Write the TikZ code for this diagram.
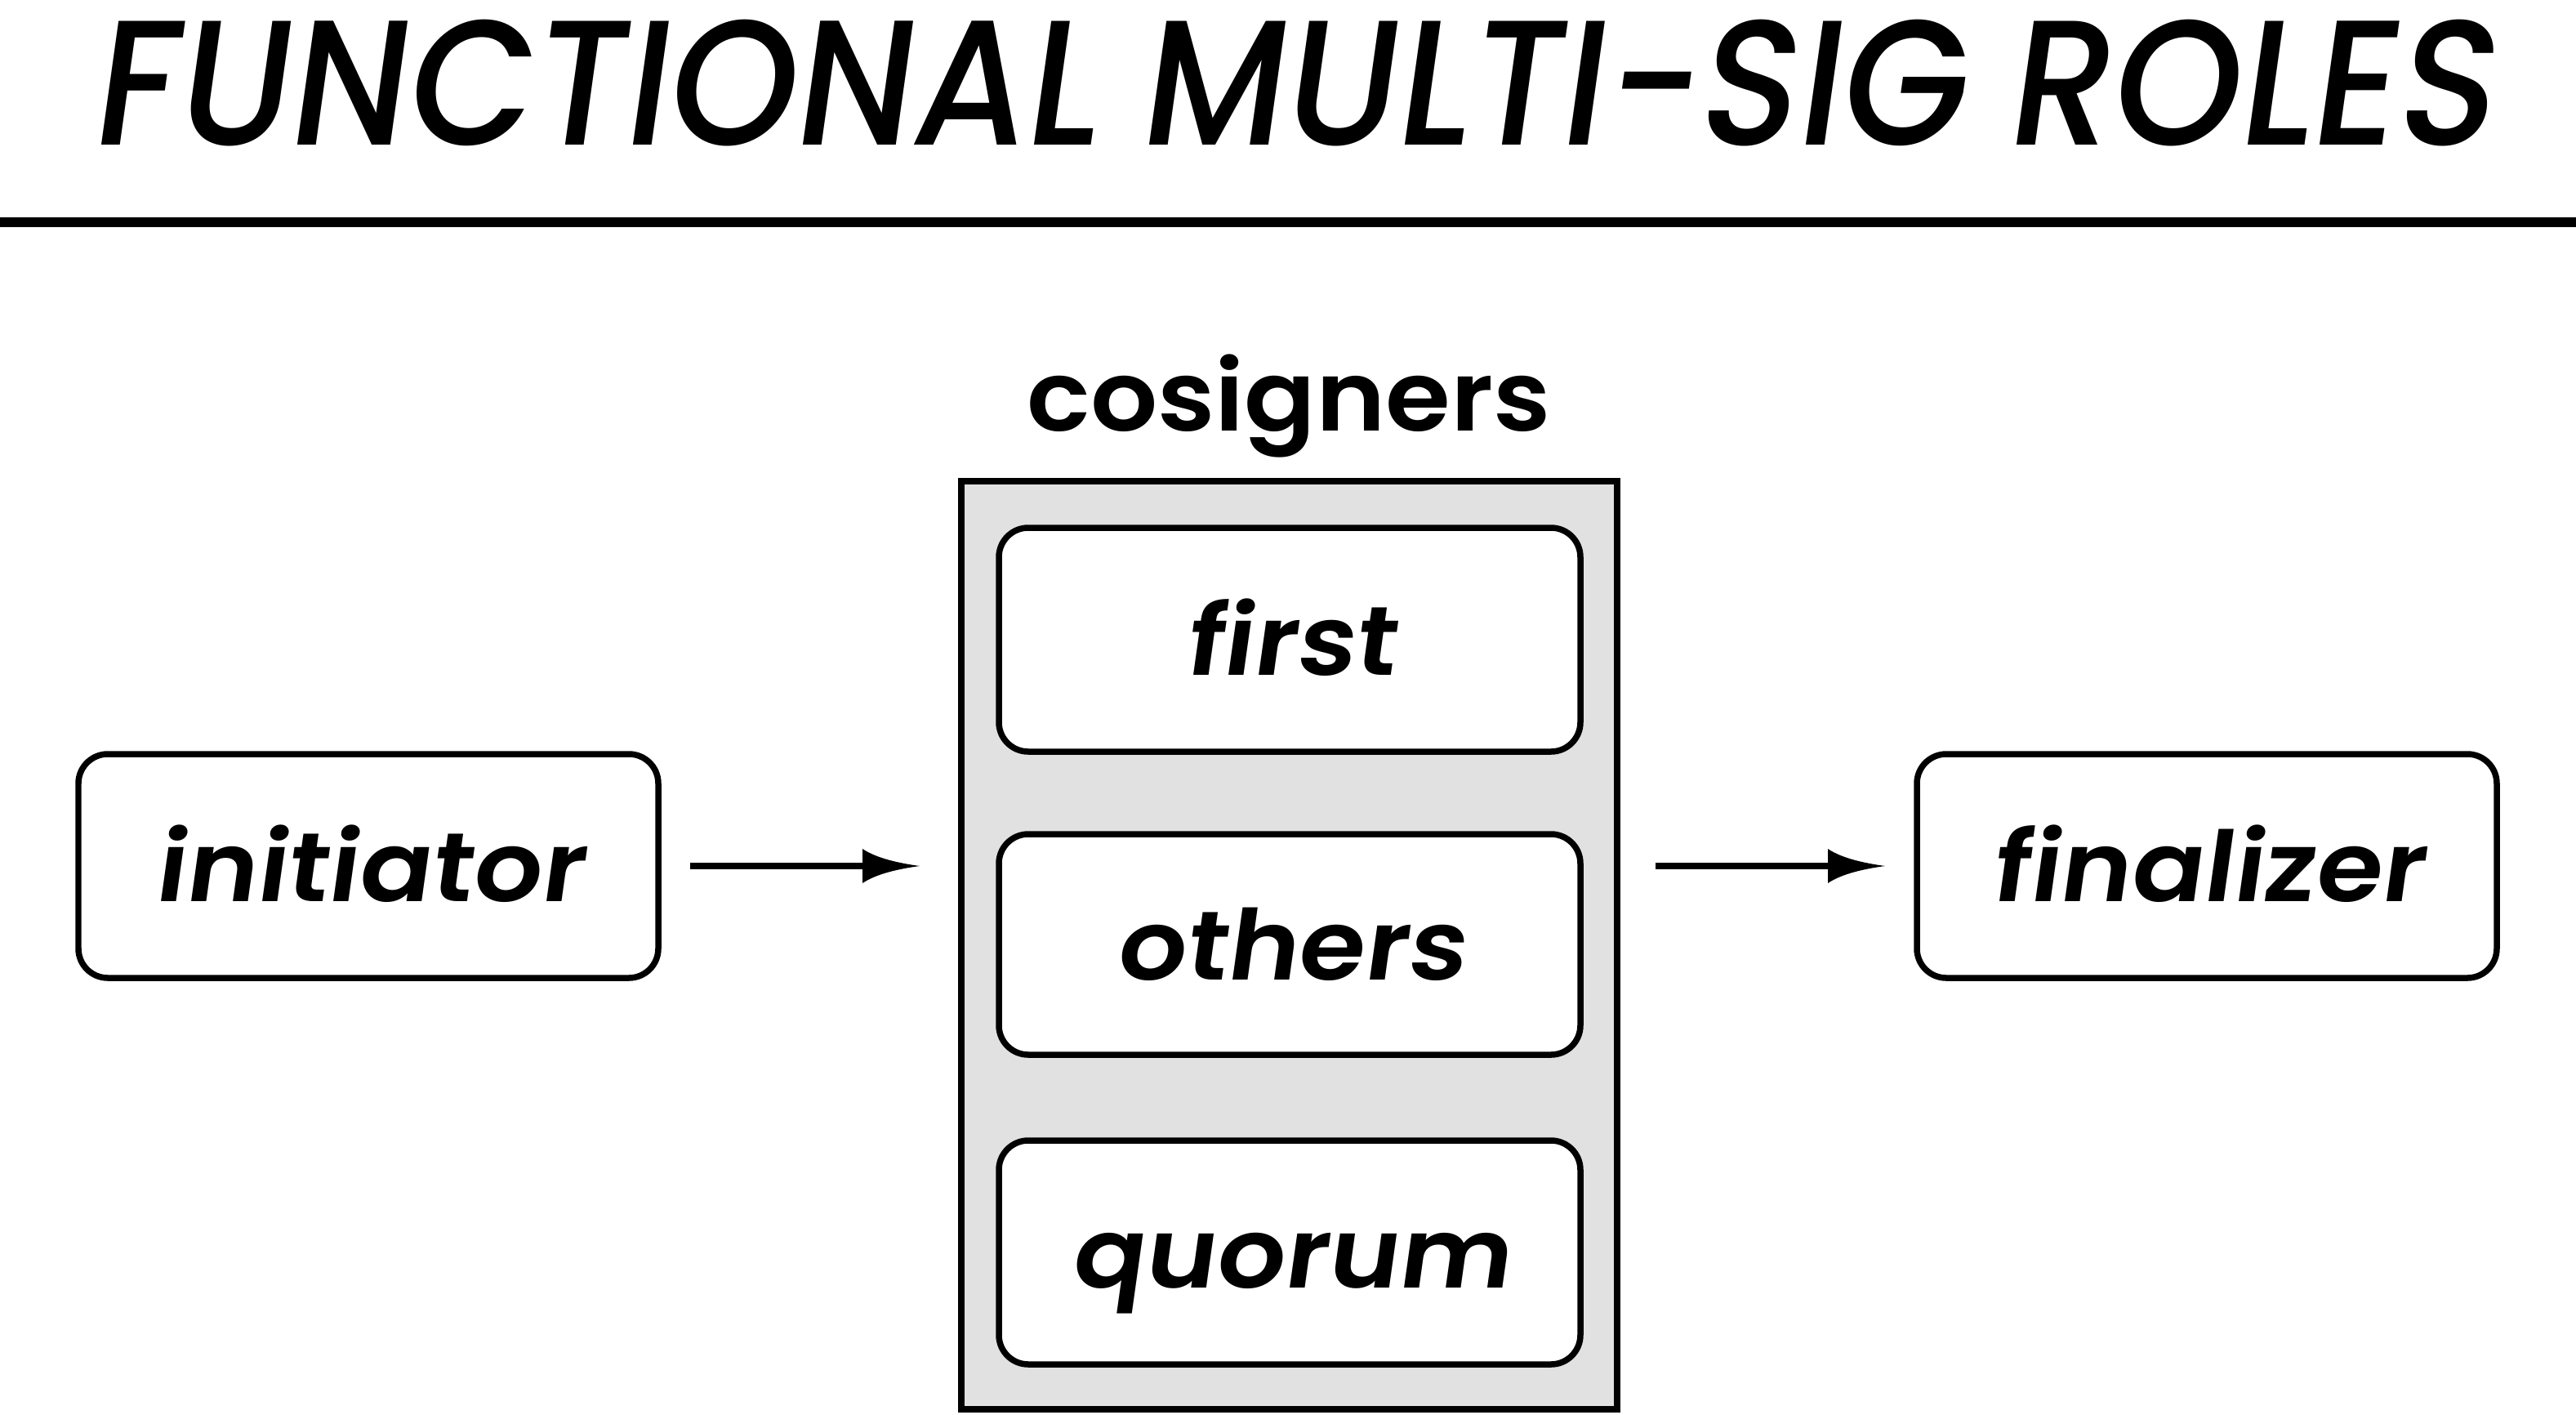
\documentclass[tikz,border=0pt]{standalone}
\usepackage{fontspec}
\usetikzlibrary{arrows.meta}
\newfontfamily\labfont{Poppins SemiBold}[FakeSlant=0.14, FakeStretch=1.1]
\newfontfamily\upfont{Poppins SemiBold}[FakeStretch=1.08]
\newfontfamily\titlefont{Poppins Medium}[FakeSlant=0.14, FakeStretch=0.915]
\definecolor{panel}{RGB}{224,225,224}

\pgfdeclarearrow{
  name = Concave,
  parameters = {\the\pgfarrowlength,\the\pgfarrowwidth},
  setup code = {
    \pgfarrowssettipend{0pt}
    \pgfarrowssetbackend{-\pgfarrowlength}
    \pgfarrowssetlineend{-.6\pgfarrowlength}
    \pgfarrowssavethe\pgfarrowlength
    \pgfarrowssavethe\pgfarrowwidth
  },
  drawing code = {
    \pgfpathmoveto{\pgfpoint{0pt}{0pt}}
    \pgfpathcurveto{\pgfpoint{-.35\pgfarrowlength}{.08\pgfarrowwidth}}{\pgfpoint{-.75\pgfarrowlength}{.22\pgfarrowwidth}}{\pgfpoint{-\pgfarrowlength}{.5\pgfarrowwidth}}
    \pgfpathlineto{\pgfpoint{-\pgfarrowlength}{-.5\pgfarrowwidth}}
    \pgfpathcurveto{\pgfpoint{-.75\pgfarrowlength}{-.22\pgfarrowwidth}}{\pgfpoint{-.35\pgfarrowlength}{-.08\pgfarrowwidth}}{\pgfpoint{0pt}{0pt}}
    \pgfpathclose
    \pgfusepathqfill
  },
  defaults = {length=0.7cm, width=0.42cm}
}

\tikzset{
  rbox/.style={draw, line width=0.075cm, rounded corners=0.36cm, fill=white,
    minimum width=7.10cm, minimum height=2.74cm, inner sep=0pt, outer sep=0pt,
    text height=0.86cm, text depth=0pt, font=\labfont\fontsize{34}{40}\selectfont},
  panelbox/.style={draw, line width=0.075cm, fill=panel, inner sep=0pt, outer sep=0pt},
  conn/.style={line width=0.08cm, -{Concave[length=0.7cm,width=0.42cm]}},
  rulestyle/.style={line width=0.125cm},
}

\begin{document}
\begin{tikzpicture}
\useasboundingbox (0,0) rectangle (31.54,-17.31);

\node[font=\titlefont\fontsize{62}{70}\selectfont, anchor=base, inner sep=0pt] (title) at (15.80,-1.77) {FUNCTIONAL MULTI-SIG ROLES};
\coordinate (ruleL) at (0,-2.72);
\coordinate (ruleR) at (31.54,-2.72);
\draw[rulestyle] (ruleL) -- (ruleR);

\node[font=\upfont\fontsize{34}{40}\selectfont, anchor=base, inner sep=0pt] (coslabel) at (15.78,-5.27) {cosigners};

\node[panelbox, minimum width=8.03cm, minimum height=11.36cm] (cos) at (15.785,-11.57) {};

\node[rbox, minimum width=7.12cm] (first) at (15.79,-7.83) {first};
\node[rbox, minimum width=7.12cm, minimum height=2.70cm] (others) at (15.79,-11.56) {others};
\node[rbox, minimum width=7.12cm] (quorum) at (15.79,-15.33) {quorum};

\node[rbox] (init) at (4.51,-10.60) {initiator};
\node[rbox] (final) at (27.02,-10.60) {finalizer};

\draw[conn, shorten <=0.39cm, shorten >=0.51cm] (init.east) -- (init.east -| cos.west);
\draw[conn, shorten <=0.47cm, shorten >=0.39cm] (final.west -| cos.east) -- (final.west);
\end{tikzpicture}
\end{document}
